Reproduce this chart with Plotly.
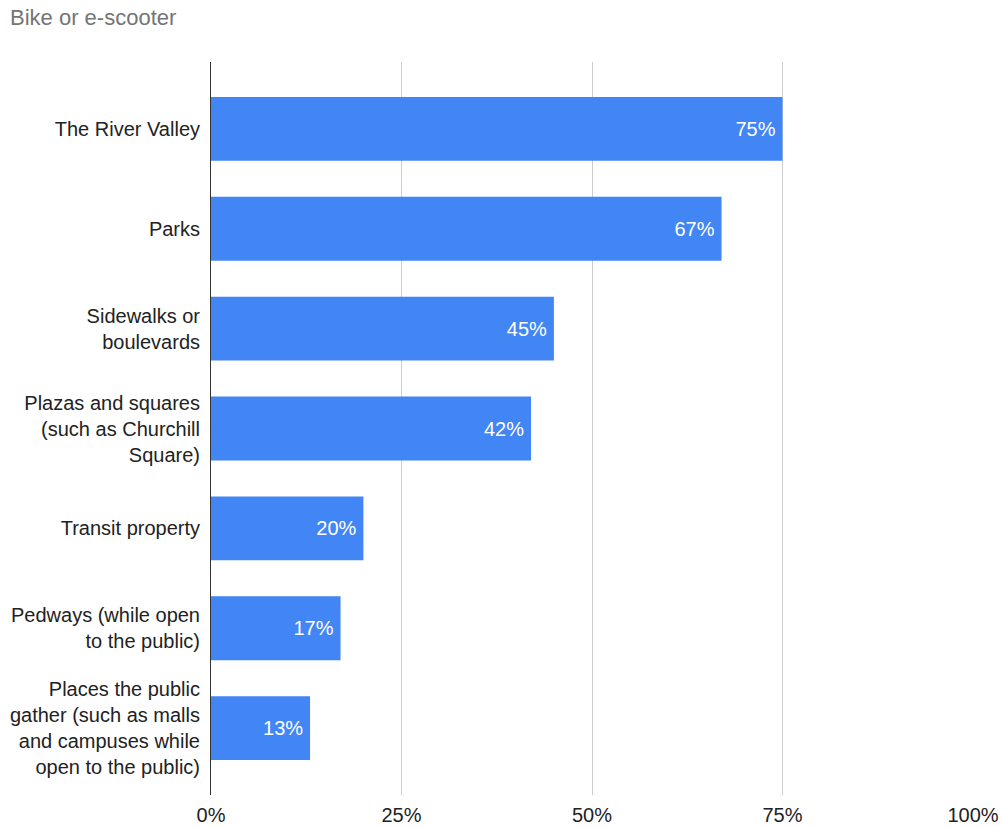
import plotly.graph_objects as go

categories = [
    "The River Valley",
    "Parks",
    "Sidewalks or<br>boulevards",
    "Plazas and squares<br>(such as Churchill<br>Square)",
    "Transit property",
    "Pedways (while open<br>to the public)",
    "Places the public<br>gather (such as malls<br>and campuses while<br>open to the public)",
]
values = [75, 67, 45, 42, 20, 17, 13]
labels = [f"{v}%\u2009" for v in values]
tick_vals = [0, 25, 50, 75, 100]
tick_text = ["0%", "25%", "50%", "75%", "100%"]

FONT = "Liberation Sans"

fig = go.Figure(
    go.Bar(
        x=values,
        y=categories,
        orientation="h",
        marker=dict(color="#4285F4", line=dict(width=0)),
        width=0.64,
        text=labels,
        textposition="inside",
        insidetextanchor="end",
        textfont=dict(color="white", size=20, family=FONT),
        hoverinfo="skip",
    )
)

fig.update_layout(
    width=1002,
    height=827,
    margin=dict(l=211, r=29, t=62, b=32),
    paper_bgcolor="white",
    plot_bgcolor="white",
    font=dict(family=FONT, size=20, color="#222222"),
    title=dict(
        text="Bike or e-scooter",
        font=dict(size=22, color="#757575", family=FONT),
        xref="container",
        yref="container",
        x=0.01,
        y=0.979,
        xanchor="left",
        yanchor="middle",
    ),
    showlegend=False,
)

fig.update_xaxes(
    range=[0, 100],
    tickvals=tick_vals,
    ticktext=tick_text,
    showgrid=True,
    gridcolor="#cccccc",
    gridwidth=1,
    zeroline=False,
    showline=False,
    ticks="outside",
    ticklen=2,
    tickcolor="rgba(0,0,0,0)",
    tickfont=dict(size=20, color="#222222", family=FONT),
    automargin=False,
)

fig.update_yaxes(
    categoryorder="array",
    categoryarray=categories,
    range=[6.67, -0.67],
    showgrid=False,
    zeroline=False,
    showline=True,
    linecolor="#333333",
    linewidth=1,
    ticks="outside",
    ticklen=6,
    tickcolor="rgba(0,0,0,0)",
    tickfont=dict(size=20, color="#222222", family=FONT),
    automargin=False,
)

fig.write_html(
    "out.html",
    config={"displayModeBar": False},
    post_script="document.body.style.margin='0';",
)
